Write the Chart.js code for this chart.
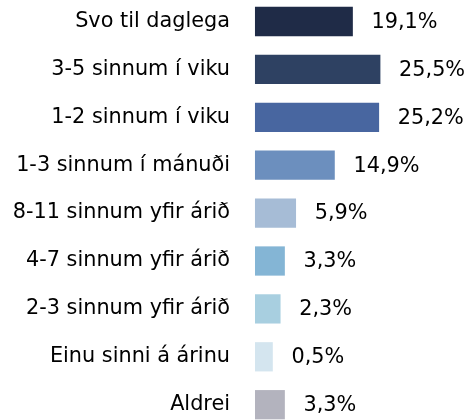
<!DOCTYPE html>
<html>
<head>
<meta charset="utf-8">
<script src="https://cdn.jsdelivr.net/npm/chart.js@4/dist/chart.umd.min.js"></script>
<style>
  html, body { margin: 0; padding: 0; background: #fff; }
  #wrap { width: 472px; height: 420px; position: relative; }
</style>
</head>
<body>
<div id="wrap"><canvas id="c"></canvas></div>
<script>
const categories = [
  "Svo til daglega",
  "3-5 sinnum í viku",
  "1-2 sinnum í viku",
  "1-3 sinnum í mánuði",
  "8-11 sinnum yfir árið",
  "4-7 sinnum yfir árið",
  "2-3 sinnum yfir árið",
  "Einu sinni á árinu",
  "Aldrei"
];
const values = [19.1, 25.5, 25.2, 14.9, 5.9, 3.3, 2.3, 0.5, 3.3];
const valueLabels = ["19,1%", "25,5%", "25,2%", "14,9%", "5,9%", "3,3%", "2,3%", "0,5%", "3,3%"];
const barColors = ["#1f2b47", "#2e4162", "#4866a0", "#6c8fbe", "#a6bcd6", "#84b5d5", "#a8cfe0", "#d4e5ef", "#b3b3be"];

const FONT = "'DejaVu Sans', sans-serif";
const X_MIN = -3.49;
const X_MAX = 46.86;

const valueLabelPlugin = {
  id: 'valueLabels',
  afterDatasetsDraw(chart) {
    const ctx = chart.ctx;
    const meta = chart.getDatasetMeta(0);
    ctx.save();
    ctx.font = "20.8px " + FONT;
    ctx.fillStyle = "#000";
    ctx.textAlign = "left";
    ctx.textBaseline = "middle";
    meta.data.forEach((bar, i) => {
      ctx.fillText(valueLabels[i], bar.x + 19, bar.y + 1);
    });
    ctx.restore();
  }
};

new Chart(document.getElementById('c'), {
  type: 'bar',
  data: {
    labels: categories,
    datasets: [{
      data: values,
      backgroundColor: barColors,
      borderWidth: 0,
      barThickness: 28.6,
      base: X_MIN,
      clip: false
    }]
  },
  options: {
    indexAxis: 'y',
    responsive: true,
    maintainAspectRatio: false,
    animation: false,
    layout: { padding: { top: 21.5, bottom: 15.3, left: 0, right: 0 } },
    plugins: {
      legend: { display: false },
      tooltip: { enabled: false }
    },
    scales: {
      x: {
        display: false,
        min: X_MIN,
        max: X_MAX
      },
      y: {
        type: 'category',
        offset: false,
        grid: { display: true, drawOnChartArea: false, drawTicks: true, tickLength: 25.3, color: 'rgba(0,0,0,0)' },
        border: { display: false },
        ticks: {
          padding: 0,
          color: "#000",
          font: { family: FONT, size: 20.8 }
        },
        afterFit(scale) { scale.width = 255.3; }
      }
    }
  },
  plugins: [valueLabelPlugin]
});
</script>
</body>
</html>
